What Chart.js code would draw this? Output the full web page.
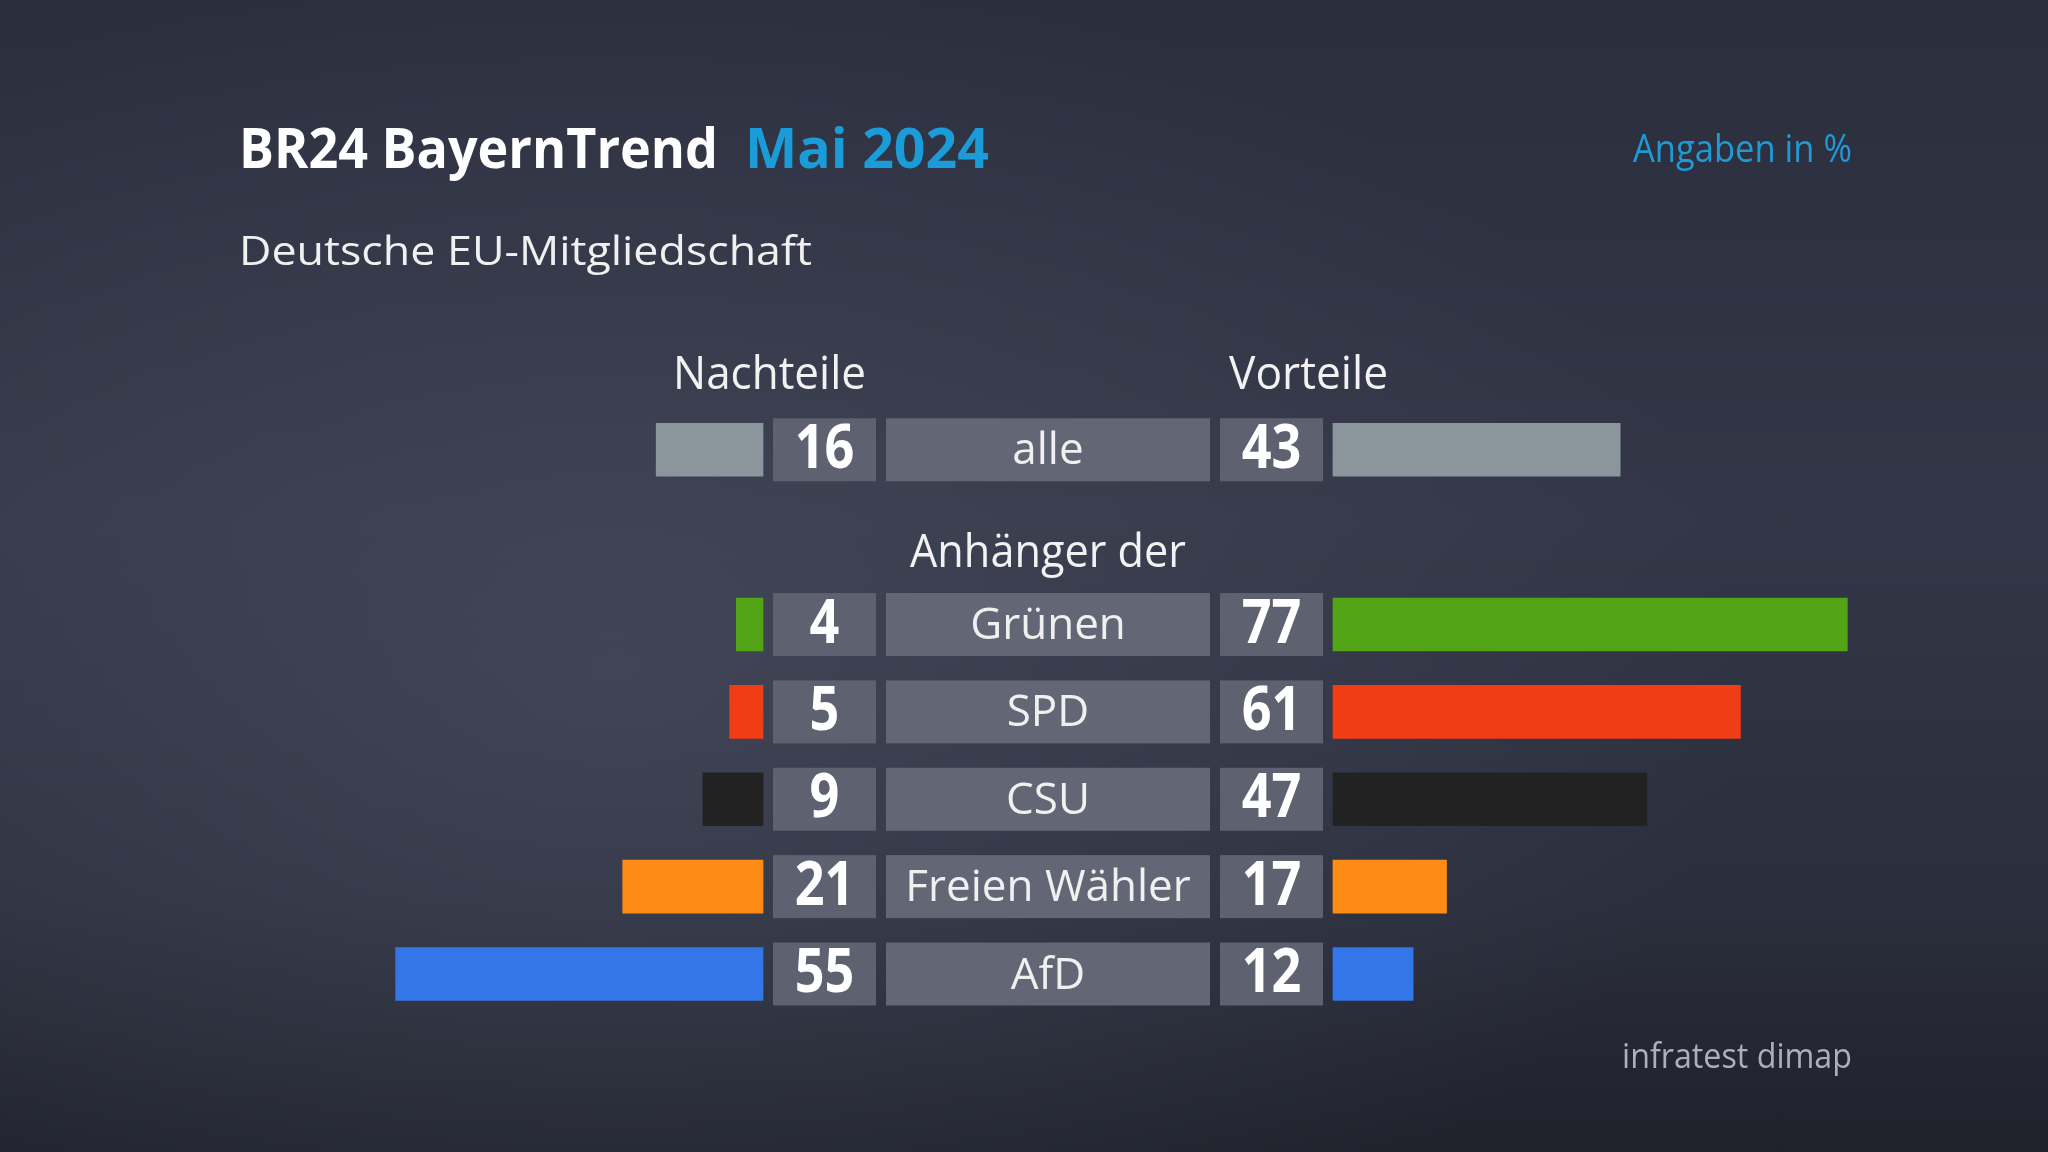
<!DOCTYPE html>
<html lang="de">
<head>
<meta charset="utf-8">
<title>BR24 BayernTrend Mai 2024</title>
<script src="https://cdn.jsdelivr.net/npm/chart.js@4.4.1/dist/chart.umd.min.js"></script>
<style>
  html, body { margin: 0; padding: 0; }
  body {
    width: 2048px; height: 1152px; overflow: hidden;
    background:
      radial-gradient(ellipse 55% 62% at 30% 58%, rgba(78, 83, 102, 0.55) 0%, rgba(78, 83, 102, 0) 100%),
      linear-gradient(180deg, #2a2e3d 0%, #323646 45%, #2b2e3c 78%, #1f222b 100%);
  }
  #chart { position: absolute; left: 0; top: 0; }
</style>
</head>
<body>
<canvas id="chart" width="2048" height="1152"></canvas>
<script>
// ── Daten ────────────────────────────────────────────────────
const categories  = ['alle', 'Anhänger der', 'Grünen', 'SPD', 'CSU', 'Freien Wähler', 'AfD'];
const nachteile   = [16, null, 4, 5, 9, 21, 55];
const vorteile    = [43, null, 77, 61, 47, 17, 12];
const barColors   = ['#8a959c', null, '#52a416', '#f03d16', '#222222', '#fd8c17', '#3376e8'];

const title       = 'BR24 BayernTrend';
const titleDate   = 'Mai 2024';
const subtitle    = 'Deutsche EU-Mitgliedschaft';
const unitNote    = 'Angaben in %';
const sourceNote  = 'infratest dimap';
const sideLabels  = ['Nachteile', 'Vorteile'];

// ── Layout ───────────────────────────────────────────────────
const GAP        = 42.66;   // Abstand (Prozentpunkte) zwischen Mitte und Balkenanfang
const FONT       = '"Open Sans", "Noto Sans", sans-serif';
const NUM_BOX    = [172, 275];
const LABEL_HALF = 162;
const BOX_HALF_H = 31.5;

function drawText(ctx, str, x, y, o) {
  ctx.save();
  ctx.font = `${o.weight || 400} ${o.size}px ${FONT}`;
  ctx.fillStyle = o.color || '#ffffff';
  ctx.textBaseline = 'alphabetic';
  ctx.textAlign = o.align || 'left';
  let sx = o.sx || 1;
  if (o.width) sx = o.width / ctx.measureText(str).width;
  ctx.translate(x, y);
  ctx.scale(sx, 1);
  ctx.fillText(str, 0, 0);
  ctx.restore();
}

// ── Boxen + Texte ────────────────────────────────────────────
const tablePlugin = {
  id: 'tablePlugin',
  beforeDatasetsDraw(chart) {
    const { ctx, scales: { x, y } } = chart;
    const zero = x.getPixelForValue(0);
    categories.forEach((cat, i) => {
      if (nachteile[i] == null) return;
      const cy = y.getPixelForValue(i);
      ctx.fillStyle = '#5e6270';
      ctx.fillRect(zero - NUM_BOX[1], cy - BOX_HALF_H, NUM_BOX[1] - NUM_BOX[0], BOX_HALF_H * 2);
      ctx.fillRect(zero + NUM_BOX[0], cy - BOX_HALF_H, NUM_BOX[1] - NUM_BOX[0], BOX_HALF_H * 2);
      ctx.fillStyle = '#636775';
      ctx.fillRect(zero - LABEL_HALF, cy - BOX_HALF_H, LABEL_HALF * 2, BOX_HALF_H * 2);
    });
  },
  afterDatasetsDraw(chart) {
    const { ctx, scales: { x, y } } = chart;
    const zero = x.getPixelForValue(0);
    const numL = zero - (NUM_BOX[0] + NUM_BOX[1]) / 2;
    const numR = zero + (NUM_BOX[0] + NUM_BOX[1]) / 2;

    categories.forEach((cat, i) => {
      const cy = y.getPixelForValue(i);
      if (nachteile[i] == null) {
        drawText(ctx, cat, zero, cy + 30, { size: 45, color: '#f2f2f2', align: 'center', width: 276 });
        return;
      }
      drawText(ctx, cat, zero, cy + 14.5, { size: 44, color: '#f0f0f0', align: 'center' });
      drawText(ctx, String(nachteile[i]), numL, cy + 18, { size: 60, weight: 700, align: 'center', sx: 0.87 });
      drawText(ctx, String(vorteile[i]), numR, cy + 18, { size: 60, weight: 700, align: 'center', sx: 0.87 });
    });

    // Spaltenköpfe
    const yTop = y.getPixelForValue(0);
    drawText(ctx, sideLabels[0], zero - 375, yTop - 61, { size: 45, color: '#f2f2f2', width: 193 });
    drawText(ctx, sideLabels[1], zero + 181, yTop - 61, { size: 45, color: '#f2f2f2', width: 159 });

    // Kopf + Fuß
    drawText(ctx, title, 239, 168, { size: 55, weight: 700, width: 479 });
    drawText(ctx, titleDate, 745, 168, { size: 55, weight: 700, color: '#1b9bd8', width: 244 });
    drawText(ctx, subtitle, 239, 265, { size: 40, color: '#f0f0f0', width: 573 });
    drawText(ctx, unitNote, 1852, 162, { size: 38, color: '#1f9ad6', align: 'right', width: 219 });
    drawText(ctx, sourceNote, 1852, 1068, { size: 35, color: '#acb0b8', align: 'right', width: 230 });
  }
};

// ── Diagramm ─────────────────────────────────────────────────
new Chart(document.getElementById('chart').getContext('2d'), {
  type: 'bar',
  data: {
    labels: categories,
    datasets: [
      {
        label: 'Nachteile',
        data: nachteile.map(v => v == null ? null : [-GAP - v, -GAP]),
        backgroundColor: barColors,
        barThickness: 53,
        borderSkipped: false,
        grouped: false
      },
      {
        label: 'Vorteile',
        data: vorteile.map(v => v == null ? null : [GAP, GAP + v]),
        backgroundColor: barColors,
        barThickness: 53,
        borderSkipped: false,
        grouped: false
      }
    ]
  },
  options: {
    indexAxis: 'y',
    responsive: false,
    animation: false,
    layout: { padding: { left: 112.8, right: 64.8, top: 406.1, bottom: 134.3 } },
    scales: {
      x: { type: 'linear', min: -140, max: 140, display: false },
      y: { type: 'category', display: false, offset: true }
    },
    plugins: {
      legend: { display: false },
      tooltip: { enabled: false }
    }
  },
  plugins: [tablePlugin]
});
</script>
</body>
</html>
